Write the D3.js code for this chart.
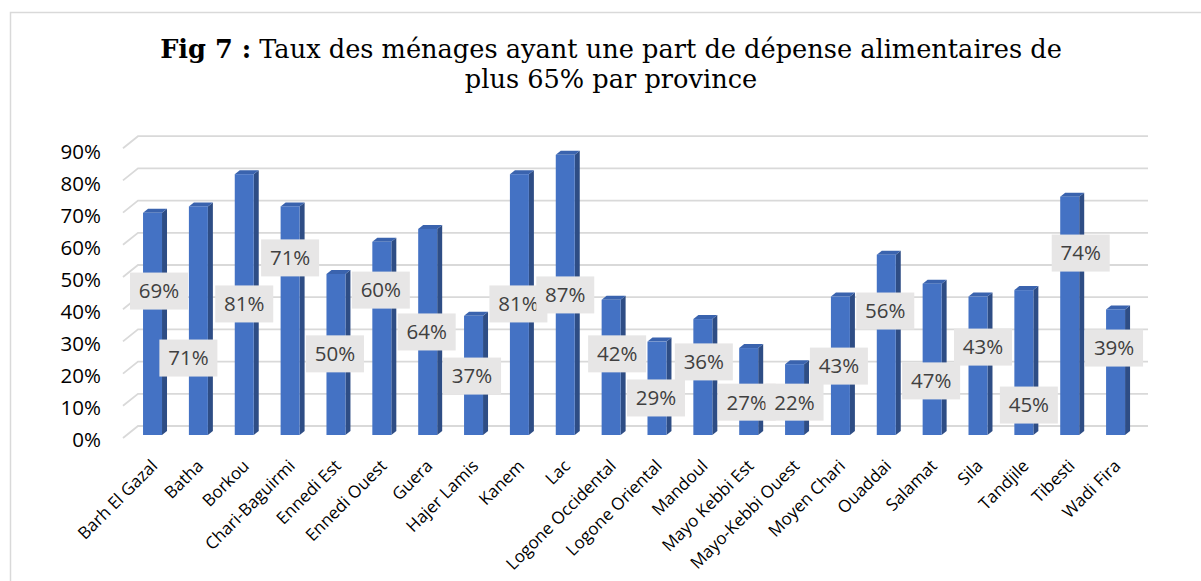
<!DOCTYPE html>
<html><head><meta charset="utf-8">
<script src="https://cdn.jsdelivr.net/npm/d3@7"></script>
<style>html,body{margin:0;padding:0;background:#fff;}svg{display:block;}</style>
</head><body>
<svg id="c" width="1201" height="581"></svg>
<script>
// ---- data ----
const categories = ["Barh El Gazal","Batha","Borkou","Chari-Baguirmi","Ennedi Est","Ennedi Ouest","Guera","Hajer Lamis","Kanem","Lac","Logone Occidental","Logone Oriental","Mandoul","Mayo Kebbi Est","Mayo-Kebbi Ouest","Moyen Chari","Ouaddai","Salamat","Sila","Tandjile","Tibesti","Wadi Fira"];
const values = [0.69,0.71,0.81,0.71,0.50,0.60,0.64,0.37,0.81,0.87,0.42,0.29,0.36,0.27,0.22,0.43,0.56,0.47,0.43,0.45,0.74,0.39];
const yTicks = [0,0.1,0.2,0.3,0.4,0.5,0.6,0.7,0.8,0.9];
// level (value units) at which each data label box sits
const labelLevel = [0.447,0.239,0.407,0.550,0.252,0.450,0.320,0.183,0.407,0.435,0.252,0.115,0.227,0.102,0.102,0.214,0.385,0.168,0.273,0.093,0.565,0.270];
const labelNudge = [6.5,-10,0,0,-1,-1,-1,-1.5,-1,0,6,-1,1,-2,0,-1.5,-1,-1,5,5,11,-1.5];
const titleBold = "Fig 7 :";
const titleRest = " Taux des ménages ayant une part de dépense alimentaires de";
const titleLine2 = "plus 65% par province";

// ---- layout ----
const svg = d3.select("#c");
const fmt = d3.format(".0%");
const x = d3.scaleBand().domain(categories).range([129.6,1138.5]).paddingInner(0.586).paddingOuter(0.293);
const y = d3.scaleLinear().domain([0,0.9]).range([435,145.2]);
const depth = {dx:5, dy:-4};
const grid = {frontX:123, backX:138, rightX:1148, frontDy:3, backDy:-9};

// frame
svg.append("path").attr("d","M10.5,581 V12.5 H1201").attr("fill","none").attr("stroke","#D9D9D9").attr("stroke-width",1.5);

// title
const title = svg.append("text").attr("x",611).attr("y",58).attr("text-anchor","middle")
  .style("font-family","'DejaVu Serif', serif").style("font-size","22px").attr("fill","#000");
title.append("tspan").style("font-weight","bold").text(titleBold);
title.append("tspan").text(titleRest);
const t2 = svg.append("text").attr("x",611).attr("y",88).attr("text-anchor","middle")
  .style("font-family","'DejaVu Serif', serif").style("font-size","22px").attr("fill","#000").text(titleLine2);
const w1 = title.node().getComputedTextLength();
const fs = 22*902/w1;
title.style("font-size",fs+"px"); t2.style("font-size",fs+"px");

// gridlines
const g = svg.append("g");
yTicks.forEach(v=>{
  const yy = y(v);
  g.append("path").attr("d",`M${grid.frontX},${yy+grid.frontDy} L${grid.backX},${yy+grid.backDy} H${grid.rightX}`)
   .attr("fill","none").attr("stroke","#D9D9D9").attr("stroke-width",1.8);
});

// y axis labels
const yLab = d3.scaleLinear().domain([0,0.9]).range([439.5,151.5]);
const ya = svg.append("g").attr("transform","translate(101,0)")
  .call(d3.axisLeft(yLab).tickValues(yTicks).tickFormat(fmt).tickSize(0).tickPadding(0));
ya.select(".domain").remove();
ya.selectAll("text").attr("dy","0.35em").attr("fill","#000")
  .style("font-family","'Open Sans', sans-serif").style("font-size","20.5px");

// bars
const bw = x.bandwidth();
const bars = svg.append("g").selectAll("g").data(categories).join("g");
bars.append("path").attr("fill","#2E4D85").attr("d",(c,i)=>{
  const x0=x(c)+bw, yt=y(values[i]), yb=y(0);
  return `M${x0},${yt} L${x0+depth.dx},${yt+depth.dy} L${x0+depth.dx},${yb+depth.dy} L${x0},${yb} Z`;
});
bars.append("path").attr("fill","#3A63AE").attr("d",(c,i)=>{
  const x0=x(c), yt=y(values[i]);
  return `M${x0},${yt} L${x0+depth.dx},${yt+depth.dy} L${x0+bw+depth.dx},${yt+depth.dy} L${x0+bw},${yt} Z`;
});
bars.append("rect").attr("fill","#4472C4")
  .attr("x",c=>x(c)).attr("width",bw)
  .attr("y",(c,i)=>y(values[i])).attr("height",(c,i)=>y(0)-y(values[i]));

// x axis labels
const xa = svg.append("g").attr("transform","translate(0,467)")
  .call(d3.axisBottom(x).tickSize(0));
xa.select(".domain").remove();
xa.selectAll("text").attr("x",0).attr("y",0).attr("dy",0)
  .attr("transform","translate(6,0) rotate(-45)").style("text-anchor","end")
  .attr("fill","#000").style("font-family","'Open Sans', sans-serif").style("font-size","17px");

// data labels
const lab = svg.append("g").selectAll("g").data(categories).join("g")
  .attr("transform",(c,i)=>`translate(${x(c)+bw/2+labelNudge[i]},${y(labelLevel[i])})`);
lab.append("rect").attr("x",-29).attr("y",-18.5).attr("width",58).attr("height",37).attr("fill","#E7E6E6");
lab.append("text").attr("text-anchor","middle").attr("dy","0.36em").attr("fill","#404040")
  .style("font-family","'Open Sans', sans-serif").style("font-size","20.5px")
  .text((c,i)=>fmt(values[i]));
</script>
</body></html>
